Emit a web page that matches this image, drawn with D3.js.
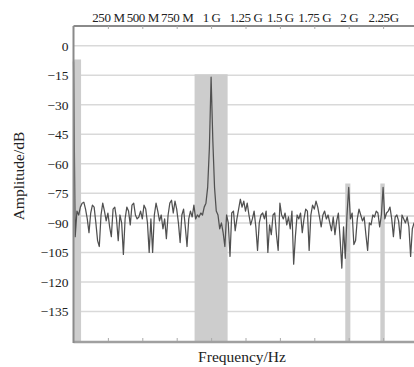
<!DOCTYPE html>
<html>
<head>
<meta charset="utf-8">
<script src="https://cdn.jsdelivr.net/npm/d3@7"></script>
<style>
  html, body { margin: 0; padding: 0; background: #fff; overflow: hidden; }
  svg text { font-family: "Liberation Serif", "Times New Roman", serif; fill: #222; }
</style>
</head>
<body>
<div id="chart"></div>
<script>
// spectrum samples, 12.5 MHz apart starting at 0 Hz
const freqStep = 12.5;
const amplitude = [
  -8, -97, -84, -86, -82, -80, -79.5, -83, -88, -95,
  -85, -81, -82, -90, -99, -102, -86, -80, -84, -89,
  -85, -92, -97, -83, -82, -88, -99, -86, -90, -106,
  -88, -82, -84, -91, -81, -80, -86, -88, -87, -84,
  -88, -81, -83, -90, -105, -88, -105, -86, -80, -84,
  -89, -86, -93, -88, -98, -86, -80, -78.5, -85, -79,
  -83, -90, -100, -86, -83, -92, -102, -88, -84, -87,
  -81, -88, -86, -87, -85, -86, -82, -80, -72, -52,
  -16, -48, -72, -84, -86, -93, -90, -95, -102, -86,
  -90, -107, -85, -84, -94, -88, -83, -78, -82, -79,
  -84, -80, -86, -91, -88, -84, -92, -104, -90, -86,
  -85, -88, -84, -105, -91, -96, -86, -85, -96, -104,
  -80, -86, -88, -85, -91, -87, -93, -84, -111, -97,
  -86, -88, -85, -95, -88, -83, -84, -104, -86, -81,
  -83, -79, -82, -87, -92, -86, -84, -88, -86, -90,
  -94, -87, -96, -89, -85, -98, -113, -92, -108, -86,
  -72, -88, -85, -101, -99, -88, -83, -86, -89, -87,
  -96, -104, -90, -91, -86, -87, -84, -85, -92, -86,
  -72, -88, -85, -84, -82, -88, -97, -87, -86, -89,
  -98, -86, -88, -90, -87, -92, -107, -93, -90, -92
];

// shaded regions: start MHz, end MHz, top dB
const bandStart = [0, 880, 1975, 2230];
const bandEnd = [55, 1120, 2012, 2262];
const bandTop = [-7, -14.5, -70, -70];

const noiseLevel = -86.5;

const yTicks = [0, -15, -30, -45, -60, -75, -90, -105, -120, -135];
const xTicks = [250, 500, 750, 1000, 1250, 1500, 1750, 2000, 2250];
const xTickLabels = ['250 M', '500 M', '750 M', '1 G', '1.25 G', '1.5 G', '1.75 G', '2 G', '2.25G'];

const W = 414, H = 367;
const plotLeft = 73.5, plotRight = 417.5, plotTop = 26, plotBottom = 341;
const serif = '"Liberation Serif", "Times New Roman", serif';

const svg = d3.select('#chart').append('svg')
  .attr('width', W)
  .attr('height', H);

const x = d3.scaleLinear().domain([0, 2500]).range([plotLeft, plotRight]);
const y = d3.scaleLinear().domain([-150, 10]).range([plotBottom, plotTop]);

// horizontal grid
svg.append('g')
  .selectAll('line')
  .data(yTicks)
  .join('line')
  .attr('x1', plotLeft).attr('x2', W)
  .attr('y1', d => y(d)).attr('y2', d => y(d))
  .attr('stroke', '#d9d9d9')
  .attr('stroke-width', 1.5);

svg.append('line')
  .attr('x1', plotLeft).attr('x2', W)
  .attr('y1', y(noiseLevel)).attr('y2', y(noiseLevel))
  .attr('stroke', '#cfcfcf')
  .attr('stroke-width', 1.5);

// shaded bands
svg.append('g')
  .selectAll('rect')
  .data(bandStart.map((s, i) => ({ s, e: bandEnd[i], t: bandTop[i] })))
  .join('rect')
  .attr('x', d => x(d.s))
  .attr('width', d => x(d.e) - x(d.s))
  .attr('y', d => y(d.t))
  .attr('height', d => plotBottom - y(d.t))
  .attr('fill', '#cdcdcd');

// spectrum trace
const line = d3.line()
  .x((d, i) => x(i * freqStep))
  .y(d => y(d));

svg.append('path')
  .datum(amplitude)
  .attr('d', line)
  .attr('fill', 'none')
  .attr('stroke', '#505050')
  .attr('stroke-width', 1.25)
  .attr('stroke-linejoin', 'round');

// top axis
const topAxis = svg.append('g')
  .attr('transform', `translate(0,${plotTop})`)
  .attr('font-family', serif)
  .call(d3.axisTop(x).tickValues(xTicks).tickFormat((d, i) => xTickLabels[i]).tickSize(-3).tickPadding(4));
topAxis.select('.domain').attr('stroke', '#8a8a8a').attr('stroke-width', 2).attr('d', `M${plotLeft},0H${W}`);
topAxis.selectAll('.tick line').attr('stroke', '#aaa');
topAxis.selectAll('text')
  .style('font-family', serif)
  .style('font-size', '13px')
  .style('letter-spacing', '-0.4px')
  .attr('fill', '#222');

// bottom axis
const bottomAxis = svg.append('g')
  .attr('transform', `translate(0,${plotBottom})`)
  .call(d3.axisBottom(x).tickValues(xTicks).tickFormat('').tickSize(-3));
bottomAxis.select('.domain').attr('stroke', '#a0a0a0').attr('stroke-width', 2.5).attr('d', `M${plotLeft},1H${W}`);
bottomAxis.selectAll('.tick line').attr('stroke', '#aaa');

// left axis
const leftAxis = svg.append('g')
  .attr('transform', `translate(${plotLeft},0)`)
  .attr('font-family', serif)
  .call(d3.axisLeft(y).tickValues(yTicks).tickFormat(d => d < 0 ? '\u2212' + Math.abs(d) : d).tickSize(0).tickPadding(5));
leftAxis.select('.domain').attr('stroke', '#8a8a8a').attr('stroke-width', 2).attr('d', `M0,${plotTop}V${plotBottom + 2}`);
leftAxis.selectAll('text')
  .style('font-family', serif)
  .style('font-size', '13.5px')
  .attr('fill', '#222');

// axis titles
svg.append('text')
  .attr('x', 242).attr('y', 362)
  .attr('text-anchor', 'middle')
  .style('font-family', serif)
  .style('font-size', '15.5px')
  .text('Frequency/Hz');

svg.append('text')
  .attr('transform', 'translate(24,176) rotate(-90)')
  .attr('text-anchor', 'middle')
  .style('font-family', serif)
  .style('font-size', '15.5px')
  .text('Amplitude/dB');
</script>
</body>
</html>
